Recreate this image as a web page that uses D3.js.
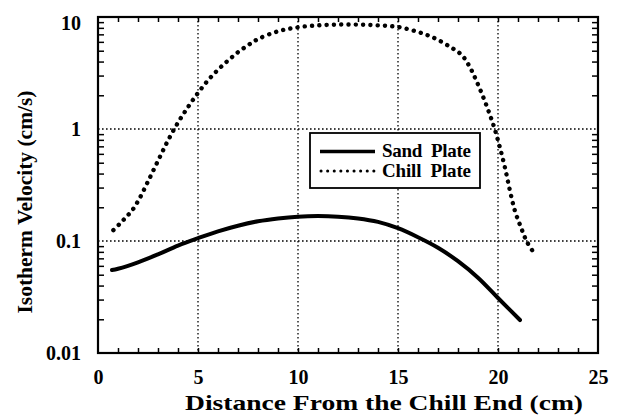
<!DOCTYPE html>
<html>
<head>
<meta charset="utf-8">
<script src="https://cdn.jsdelivr.net/npm/d3@7"></script>
<style>
  html, body { margin: 0; padding: 0; background: #fff; }
  svg { display: block; }
  svg text { font-family: "Liberation Serif", "Times New Roman", Times, serif !important; font-weight: bold; fill: #000; }
</style>
</head>
<body>
<svg id="chart" width="621" height="416"></svg>
<script>
// Isotherm velocity along the plate, sand mould vs chill plate
const sandX = [0.7, 1, 2, 3, 4, 5, 6, 7, 8, 9, 10, 11, 12, 13, 14, 15, 16, 17, 18, 19, 20, 21.1];
const sandV = [0.055, 0.0565, 0.0645, 0.076, 0.091, 0.106, 0.122, 0.137, 0.150, 0.159, 0.165, 0.167, 0.165, 0.159, 0.148, 0.130, 0.108, 0.087, 0.066, 0.047, 0.031, 0.0197];

const chillX = [0.77, 1.1, 1.4, 1.7, 2.05, 2.5, 3.0, 3.5, 4.0, 4.5, 5.0, 5.5, 6.0, 6.5, 7.0, 7.5, 8.0, 9.0, 10.0, 11.0, 12.0, 13.0, 14.0, 15.0, 16.0, 16.8, 17.6, 18.2, 18.6, 18.95, 19.3, 19.6, 19.85, 20.1, 20.35, 20.6, 20.85, 21.15, 21.45, 21.85];
const chillV = [0.125, 0.143, 0.163, 0.187, 0.235, 0.34, 0.52, 0.79, 1.14, 1.57, 2.1, 2.72, 3.38, 4.08, 4.85, 5.6, 6.35, 7.45, 8.1, 8.42, 8.55, 8.55, 8.42, 8.15, 7.35, 6.5, 5.42, 4.55, 3.55, 2.62, 1.85, 1.33, 0.98, 0.68, 0.45, 0.28, 0.185, 0.132, 0.098, 0.076];

const xTicks = [0, 5, 10, 15, 20, 25];
const yTicks = [0.01, 0.1, 1, 10];
const xGrid = [5, 10, 15, 20];
const yGrid = [0.1, 1];
const seriesNames = ["Sand  Plate", "Chill  Plate"];

const FONT = '"Liberation Serif", "Times New Roman", Times, serif';

const svg = d3.select("#chart");
const plotL = 98, plotR = 598, plotT = 17, plotB = 353;

const x = d3.scaleLinear().domain([0, 25]).range([plotL, plotR]);
const y = d3.scaleLog().domain([0.01, 10]).range([plotB, plotT]);

// dotted grid
const grid = svg.append("g").attr("stroke", "#000").attr("stroke-width", 1.3).attr("stroke-dasharray", "1.6,2.4");
grid.selectAll(".gx").data(xGrid).join("line")
  .attr("x1", d => x(d)).attr("x2", d => x(d)).attr("y1", plotT).attr("y2", plotB);
grid.selectAll(".gy").data(yGrid).join("line")
  .attr("y1", d => y(d)).attr("y2", d => y(d)).attr("x1", plotL).attr("x2", plotR);

// minor ticks (inside, all four sides)
const minorX = d3.range(1, 25);
const minorY = [];
[0.01, 0.1, 1].forEach(dec => { for (let k = 2; k <= 9; k++) minorY.push(dec * k); });

svg.append("g").attr("transform", `translate(0,${plotB})`)
  .call(d3.axisBottom(x).tickValues(minorX).tickSize(-5).tickFormat(""))
  .call(g => g.select(".domain").remove())
  .selectAll("line").attr("stroke-width", 1.5);
svg.append("g").attr("transform", `translate(0,${plotT})`)
  .call(d3.axisTop(x).tickValues(minorX).tickSize(-5).tickFormat(""))
  .call(g => g.select(".domain").remove())
  .selectAll("line").attr("stroke-width", 1.5);
svg.append("g").attr("transform", `translate(${plotL},0)`)
  .call(d3.axisLeft(y).tickValues(minorY).tickSize(-6).tickFormat(""))
  .call(g => g.select(".domain").remove())
  .selectAll("line").attr("stroke-width", 1.5);
svg.append("g").attr("transform", `translate(${plotR},0)`)
  .call(d3.axisRight(y).tickValues(minorY).tickSize(-6).tickFormat(""))
  .call(g => g.select(".domain").remove())
  .selectAll("line").attr("stroke-width", 1.5);

// tick labels
svg.append("g").attr("transform", `translate(0,${plotB})`)
  .call(d3.axisBottom(x).tickValues(xTicks).tickSize(0).tickPadding(17).tickFormat(d3.format("d")))
  .call(g => g.attr("font-family", FONT).attr("font-size", 20))
  .call(g => g.select(".domain").remove());

svg.append("g").attr("transform", `translate(${plotL},0)`)
  .call(d3.axisLeft(y).tickValues(yTicks).tickSize(0).tickPadding(17).tickFormat(d3.format("~g")))
  .call(g => g.attr("font-family", FONT).attr("font-size", 20))
  .call(g => g.select(".domain").remove())
  .selectAll("text").attr("dy", d => d === 10 ? "0.6em" : "0.32em");

// curves
const line = d3.line().x(d => x(d[0])).y(d => y(d[1])).curve(d3.curveCatmullRom.alpha(0.5));

svg.append("path")
  .datum(d3.zip(sandX, sandV))
  .attr("fill", "none").attr("stroke", "#000").attr("stroke-width", 4)
  .attr("stroke-linecap", "round").attr("stroke-linejoin", "round")
  .attr("d", line);

svg.append("path")
  .datum(d3.zip(chillX, chillV))
  .attr("fill", "none").attr("stroke", "#000").attr("stroke-width", 4.4)
  .attr("stroke-linecap", "round").attr("stroke-dasharray", "0.1,7.2")
  .attr("d", line);

// frame
svg.append("rect")
  .attr("x", plotL).attr("y", plotT).attr("width", plotR - plotL).attr("height", plotB - plotT)
  .attr("fill", "none").attr("stroke", "#000").attr("stroke-width", 2.2);

// legend
const lg = svg.append("g");
lg.append("rect").attr("x", 310).attr("y", 133).attr("width", 170).attr("height", 55)
  .attr("fill", "#fff").attr("stroke", "#000").attr("stroke-width", 1.8);
lg.append("line").attr("x1", 320).attr("x2", 375).attr("y1", 151.5).attr("y2", 151.5)
  .attr("stroke", "#000").attr("stroke-width", 3.5);
lg.append("line").attr("x1", 321).attr("x2", 375).attr("y1", 171).attr("y2", 171)
  .attr("stroke", "#000").attr("stroke-width", 3).attr("stroke-linecap", "round").attr("stroke-dasharray", "0.1,6.5");
lg.selectAll("text").data(seriesNames).join("text")
  .attr("x", 382).attr("y", (d, i) => 157 + i * 20)
  .attr("font-family", FONT).attr("font-size", 19)
  .style("white-space", "pre")
  .attr("textLength", 89).attr("lengthAdjust", "spacing")
  .text(d => d);

// axis titles
svg.append("text").attr("x", 384).attr("y", 410).attr("text-anchor", "middle")
  .attr("font-family", FONT).attr("font-size", 21)
  .attr("textLength", 398).attr("lengthAdjust", "spacingAndGlyphs")
  .text("Distance From the Chill End (cm)");
svg.append("text").attr("transform", "translate(32,202) rotate(-90)").attr("text-anchor", "middle")
  .attr("font-family", FONT).attr("font-size", 20)
  .attr("textLength", 223).attr("lengthAdjust", "spacingAndGlyphs")
  .text("Isotherm Velocity (cm/s)");
</script>
</body>
</html>
